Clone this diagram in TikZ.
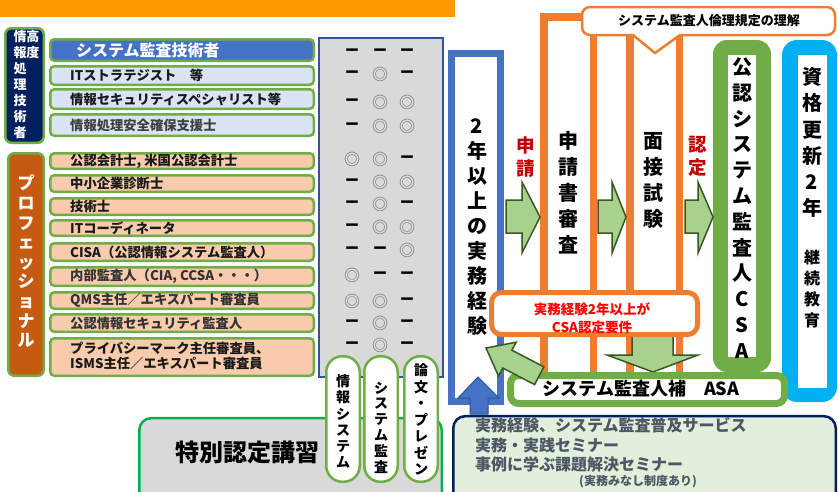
\documentclass[tikz,border=0pt]{standalone}
\usepackage{fontspec}
\setmainfont{Noto Sans CJK JP}
\definecolor{obar}{HTML}{FF9900}
\definecolor{navy}{HTML}{002060}
\definecolor{rgreen}{HTML}{70AD47}
\definecolor{hblue}{HTML}{4472C4}
\definecolor{lblue}{HTML}{DAE3F3}
\definecolor{pbrown}{HTML}{C55A11}
\definecolor{peach}{HTML}{F8CBAD}
\definecolor{tgray}{HTML}{D9D9D9}
\definecolor{tborder}{HTML}{2F5597}
\definecolor{oline}{HTML}{ED7D31}
\definecolor{afill}{HTML}{A9D18E}
\definecolor{adraw}{HTML}{385723}
\definecolor{cyanb}{HTML}{00B0F0}
\definecolor{dred}{HTML}{C00000}
\definecolor{bred}{HTML}{FF0000}
\definecolor{bgreen}{HTML}{E2EFDA}
\definecolor{sgreen}{HTML}{00B050}
\definecolor{btext}{HTML}{4D5766}
\definecolor{symgray}{HTML}{6A6A6A}
\definecolor{rtext}{HTML}{1A1A1A}
\newcommand{\fsz}[2]{\fontsize{#1}{#2}\selectfont}
\newcommand{\symb}[1]{\if d#1{\bfseries\fsz{14}{14}ー}\else{\color{symgray}\fsz{16}{16}◎}\fi}
\begin{document}
\begin{tikzpicture}[x=1pt,y=-1pt,
  rowbox/.style={draw=rgreen, line width=2.5pt, rounded corners=4pt, minimum width=263.5pt, inner sep=0pt},
  rowtext/.style={anchor=west, inner sep=0pt, text=rtext, font=\bfseries\fsz{13.3}{15.5}, align=left},
  vstack/.style={align=center, inner sep=0pt},
  symnode/.style={inner sep=0pt},
  garrow/.style={fill=afill, draw=adraw, line width=1.5pt, line join=miter},
  tabpill/.style={draw=rgreen, fill=white, line width=2.5pt, rounded corners=16pt, minimum width=33.5pt, minimum height=125.5pt, inner sep=0pt},
  plainbox/.style={inner sep=0pt},
]
\useasboundingbox (0,0) rectangle (838,491);
\fill[white] (0,0) rectangle (838,491);
% top orange bar
\fill[obar] (0,0) rectangle (455,17);

% left navy box
\node[plainbox, draw=rgreen, fill=navy, line width=2.5pt, rounded corners=6pt, minimum width=38.5pt, minimum height=114.5pt] (navyb) at (24.5,85.5) {};
\node[vstack, text=white, font=\bfseries\fsz{13}{16}] (navyt1) at (20,85) {情\\報\\処\\理\\技\\術\\者};
\node[vstack, text=white, font=\bfseries\fsz{13}{16}] (navyt2) at (33,45) {高\\度};

% IT rows
\node[rowbox, fill=hblue, minimum height=21.5pt] (h1) at (182,50) {};
\node[rowtext, text=white, font=\bfseries\fsz{16}{18}] (h1t) at (76,50) {システム監査技術者};
\node[rowbox, fill=lblue, minimum height=18.5pt] (h2) at (182,75.5) {};
\node[rowtext] (h2t) at (70,75.5) {ITストラテジスト　等};
\node[rowbox, fill=lblue, minimum height=19.5pt] (h3) at (182,99) {};
\node[rowtext] (h3t) at (70,99) {情報セキュリティスペシャリスト等};
\node[rowbox, fill=lblue, minimum height=21.5pt] (h4) at (182,125) {};
\node[rowtext, text=black!75] (h4t) at (70,125) {情報処理安全確保支援士};

% professional box
\node[plainbox, draw=rgreen, fill=pbrown, line width=2.5pt, rounded corners=6pt, minimum width=35.5pt, minimum height=222.5pt] (profb) at (26,264.5) {};
\node[vstack, text=white, font=\bfseries\fsz{17}{19.6}] (proft) at (26,261.5) {プ\\ロ\\フ\\ェ\\ッ\\シ\\ョ\\ナ\\ル};

\node[rowbox, fill=peach, minimum height=15.5pt] (p1) at (182,161) {};
\node[rowtext] (p1t) at (70,161) {公認会計士, 米国公認会計士};
\node[rowbox, fill=peach, minimum height=16.5pt] (p2) at (182,183.5) {};
\node[rowtext] (p2t) at (70,183.5) {中小企業診断士};
\node[rowbox, fill=peach, minimum height=16.5pt] (p3) at (182,206.5) {};
\node[rowtext] (p3t) at (70,206.5) {技術士};
\node[rowbox, fill=peach, minimum height=15.5pt] (p4) at (182,228) {};
\node[rowtext] (p4t) at (70,228) {ITコーディネータ};
\node[rowbox, fill=peach, minimum height=17.5pt] (p5) at (182,252) {};
\node[rowtext] (p5t) at (70,252) {CISA（公認情報システム監査人）};
\node[rowbox, fill=peach, minimum height=18.5pt] (p6) at (182,276.5) {};
\node[rowtext, text=black!80] (p6t) at (70,276.5) {内部監査人（CIA, CCSA・・・）};
\node[rowbox, fill=peach, minimum height=16.5pt] (p7) at (182,300.5) {};
\node[rowtext, text=black!80] (p7t) at (70,300.5) {QMS主任／エキスパート審査員};
\node[rowbox, fill=peach, minimum height=17.5pt] (p8) at (182,323) {};
\node[rowtext, text=black!80] (p8t) at (70,323) {公認情報セキュリティ監査人};
\node[rowbox, fill=peach, minimum height=37.5pt] (p9) at (182,357) {};
\node[rowtext] (p9t) at (70,356) {プライバシーマーク主任審査員、\\ISMS主任／エキスパート審査員};

% gray table
\node[plainbox, draw=tborder, fill=tgray, line width=2pt, minimum width=124pt, minimum height=339pt] (tbl) at (381,207.5) {};
\foreach \yy/\a/\b/\c [count=\i] in {52/d/d/d, 74/d/o/d, 102/d/o/o, 126/d/o/o, 159/o/o/d, 182/d/o/o, 204/d/o/d, 227/d/o/o, 250/d/d/o, 275/o/d/d, 301/o/o/d, 323/d/o/d, 345/d/o/d}{
  \node[symnode] (sa\i) at (352,\yy) {\symb{\a}};
  \node[symnode] (sb\i) at (380,\yy) {\symb{\b}};
  \node[symnode] (sc\i) at (407,\yy) {\symb{\c}};
}

% special course box
\node[plainbox, draw=sgreen, fill=tgray, line width=2.5pt, rounded corners=12pt, minimum width=302.5pt, minimum height=91.75pt] (spb) at (290.5,464) {};
\node[inner sep=0pt, font=\bfseries\fsz{24}{26}] (spt) at (247,452) {特別認定講習};

% tabs
\node[tabpill] (tab1) at (343,419) {};
\node[tabpill] (tab2) at (381,419) {};
\node[tabpill] (tab3) at (421,419) {};
\node[vstack, font=\bfseries\fsz{14}{16.2}] (tab1t) at (343,421.5) {情\\報\\シ\\ス\\テ\\ム};
\node[vstack, font=\bfseries\fsz{14}{15.8}] (tab2t) at (381,427.5) {シ\\ス\\テ\\ム\\監\\査};
\node[vstack, font=\bfseries\fsz{14}{16.5}] (tab3t) at (421,419.5) {論\\文\\・\\プ\\レ\\ゼ\\ン};

% bottom right box
\node[plainbox, draw=navy, fill=bgreen, line width=2.5pt, rounded corners=12pt, minimum width=382.5pt, minimum height=93.75pt] (brb) at (644.5,463) {};
\node[anchor=west, inner sep=0pt, text=btext, font=\bfseries\fsz{16}{19}] (b1) at (475,425) {実務経験、システム監査普及サービス};
\node[anchor=west, inner sep=0pt, text=btext, font=\bfseries\fsz{16}{19}] (b2) at (475,445) {実務・実践セミナー};
\node[anchor=west, inner sep=0pt, text=btext, font=\bfseries\fsz{16}{19}] (b3) at (475,464) {事例に学ぶ課題解決セミナー};
\node[inner sep=0pt, text=btext, font=\bfseries\fsz{12}{14}] (b4) at (638,482) {(実務みなし制度あり)};

% 2 years experience frame
\node[plainbox, draw=hblue, fill=white, line width=7pt, minimum width=49pt, minimum height=348pt] (exp) at (476,227.5) {};
\node[vstack, font=\bfseries\fsz{20}{25}] (expt) at (477,227) {2\\年\\以\\上\\の\\実\\務\\経\\験};

% orange frames
\node[plainbox, draw=oline, fill=white, line width=7.5pt, minimum width=49.5pt, minimum height=360pt] (apply) at (568.5,196.75) {};
\node[plainbox, draw=oline, fill=white, line width=7.5pt, minimum width=49.5pt, minimum height=360pt] (intv) at (654.5,196.75) {};
\node[vstack, font=\bfseries\fsz{20}{26}] (applyt) at (568,193) {申\\請\\書\\審\\査};
\node[vstack, font=\bfseries\fsz{20}{26}] (intvt) at (653,180) {面\\接\\試\\験};

% callout
\draw[draw=oline, fill=white, line width=2.5pt] (655,53) -- (633,35) [rounded corners=8pt] -- (582,35) -- (582,7) -- (835,7) -- (835,35) [sharp corners] -- (680,35) -- cycle;
\node[inner sep=0pt, font=\bfseries\fsz{13}{15}] (callt) at (709,21) {システム監査人倫理規定の理解};

% CSA box
\node[plainbox, fill=rgreen, rounded corners=14pt, minimum width=58pt, minimum height=332pt] (csa) at (742,206) {};
\node[plainbox, fill=white, minimum width=28pt, minimum height=302pt] (csain) at (742,206) {};
\node[vstack, font=\bfseries\fsz{20}{25.8}] (csat) at (742,208) {公\\認\\シ\\ス\\テ\\ム\\監\\査\\人\\C\\S\\A};

% renewal box
\node[plainbox, fill=cyanb, rounded corners=15pt, minimum width=55pt, minimum height=362pt] (renew) at (809.5,221) {};
\node[plainbox, fill=white, minimum width=29pt, minimum height=333pt] (renewin) at (812.5,221.5) {};
\node[vstack, font=\bfseries\fsz{20}{26.2}] (rent1) at (812,142.5) {資\\格\\更\\新\\2\\年};
\node[vstack, font=\bfseries\fsz{16}{21}] (rent2) at (812,288.5) {継\\続\\教\\育};

% horizontal green arrows
\foreach \xa/\xb/\xc in {506/522/540, 598/612/626, 685/698/713}{
  \draw[garrow] (\xa,200) -- (\xb,200) -- (\xb,182) -- (\xc,217) -- (\xb,253) -- (\xb,233) -- (\xa,233) -- cycle;
}
\node[vstack, text=dred, font=\bfseries\fsz{18.5}{23}] (lbla) at (526,156.5) {申\\請};
\node[vstack, text=dred, font=\bfseries\fsz{18.5}{23}] (lblb) at (698,156.5) {認\\定};

% down arrow
\draw[garrow] (632,330) -- (673,330) -- (673,355) -- (698,355) -- (653,372) -- (607,355) -- (632,355) -- cycle;

% note box
\node[plainbox, draw=oline, fill=white, line width=5pt, rounded corners=10pt, minimum width=206pt, minimum height=42pt] (note) at (594.5,313.5) {};
\node[vstack, text=bred, font=\bfseries\fsz{13.5}{18}] (notet) at (592,318) {実務経験2年以上が\\CSA認定要件};

% ASA box
\node[plainbox, draw=rgreen, fill=white, line width=7pt, rounded corners=8pt, minimum width=274pt, minimum height=28pt] (asa) at (647.5,389.5) {};
\node[inner sep=0pt, font=\bfseries\fsz{18}{20}] (asat) at (641,389) {システム監査人補　ASA};

% diagonal arrow
\draw[garrow] (486,348) -- (516.1,342.2) -- (511.9,350.2) -- (543.8,366.8) -- (534.6,384.6) -- (502.7,368) -- (498.5,376) -- cycle;

% blue up arrow
\draw[fill=hblue, draw=tborder, line width=1pt] (478,377) -- (499,398) -- (488,398) -- (488,414) -- (470,414) -- (470,398) -- (458,398) -- cycle;
\end{tikzpicture}
\end{document}
